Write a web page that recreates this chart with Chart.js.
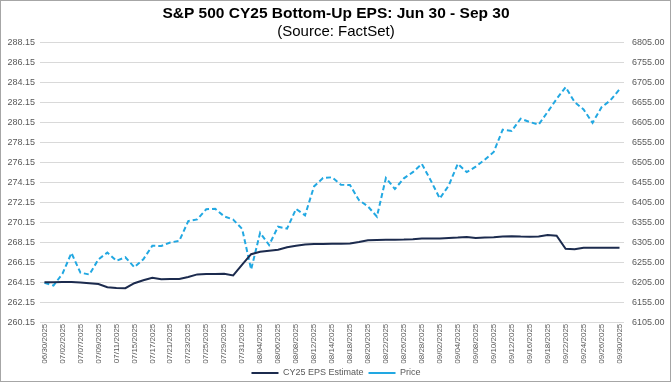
<!DOCTYPE html>
<html>
<head>
<meta charset="utf-8">
<script src="https://cdn.jsdelivr.net/npm/chart.js@4/dist/chart.umd.min.js"></script>
<style>
  html, body { margin: 0; padding: 0; background: #fff; }
  #wrap { width: 672px; height: 384px; position: relative; }
</style>
</head>
<body>
<div id="wrap"><canvas id="c" width="672" height="384"></canvas></div>
<script>
const titleText = "S&P 500 CY25 Bottom-Up EPS: Jun 30 - Sep 30";
const subtitleText = "(Source: FactSet)";

const dates = [
  "06/30/2025","07/01/2025","07/02/2025","07/03/2025","07/07/2025","07/08/2025","07/09/2025","07/10/2025","07/11/2025",
  "07/14/2025","07/15/2025","07/16/2025","07/17/2025","07/18/2025","07/21/2025","07/22/2025","07/23/2025","07/24/2025",
  "07/25/2025","07/28/2025","07/29/2025","07/30/2025","07/31/2025","08/01/2025","08/04/2025","08/05/2025","08/06/2025",
  "08/07/2025","08/08/2025","08/11/2025","08/12/2025","08/13/2025","08/14/2025","08/15/2025","08/18/2025","08/19/2025",
  "08/20/2025","08/21/2025","08/22/2025","08/25/2025","08/26/2025","08/27/2025","08/28/2025","08/29/2025","09/02/2025",
  "09/03/2025","09/04/2025","09/05/2025","09/08/2025","09/09/2025","09/10/2025","09/11/2025","09/12/2025","09/15/2025",
  "09/16/2025","09/17/2025","09/18/2025","09/19/2025","09/22/2025","09/23/2025","09/24/2025","09/25/2025","09/26/2025",
  "09/29/2025","09/30/2025"
];

const epsEstimate = [
  264.20,264.20,264.22,264.22,264.18,264.10,264.02,263.70,263.62,
  263.60,264.10,264.40,264.65,264.50,264.52,264.52,264.72,264.98,
  265.02,265.03,265.05,264.88,265.95,267.00,267.25,267.35,267.45,
  267.70,267.85,267.98,268.02,268.03,268.05,268.05,268.08,268.22,
  268.40,268.42,268.44,268.45,268.46,268.50,268.56,268.57,268.58,
  268.62,268.66,268.72,268.62,268.66,268.70,268.78,268.80,268.76,
  268.74,268.78,268.92,268.85,267.55,267.50,267.65,267.65,267.65,
  267.65,267.65
];

const price = [
  6204.95,6198.01,6227.42,6279.35,6229.98,6225.52,6263.26,6280.46,6259.75,
  6268.56,6243.76,6263.70,6297.36,6296.79,6305.60,6309.62,6358.91,6363.35,
  6388.64,6389.77,6370.86,6362.90,6339.39,6238.01,6329.94,6299.19,6345.06,
  6340.00,6389.45,6373.45,6445.76,6466.58,6468.54,6449.80,6449.15,6411.37,
  6395.78,6370.17,6466.91,6439.32,6465.94,6481.40,6501.86,6460.26,6415.54,
  6448.26,6502.08,6481.50,6495.15,6512.61,6532.04,6587.47,6584.29,6615.28,
  6606.76,6600.35,6631.96,6664.36,6693.75,6656.92,6637.97,6604.72,6643.70,
  6661.21,6688.46
];

const leftTicks = [260.15,262.15,264.15,266.15,268.15,270.15,272.15,274.15,276.15,278.15,280.15,282.15,284.15,286.15,288.15];
const rightTicks = [6105,6155,6205,6255,6305,6355,6405,6455,6505,6555,6605,6655,6705,6755,6805];

const FONT = "'Liberation Sans', Arial, sans-serif";
const GREY = "#595959";

const frame = {
  id: 'frame',
  beforeDraw(chart) {
    const ctx = chart.ctx;
    ctx.save();
    ctx.fillStyle = '#ffffff';
    ctx.fillRect(0, 0, chart.width, chart.height);
    ctx.restore();
  },
  afterDraw(chart) {
    const ctx = chart.ctx;
    ctx.save();
    ctx.strokeStyle = '#a6a6a6';
    ctx.lineWidth = 1;
    ctx.strokeRect(0.5, 0.5, chart.width - 2, chart.height - 3);
    ctx.restore();
  }
};

new Chart(document.getElementById('c'), {
  type: 'line',
  data: {
    labels: dates,
    datasets: [
      {
        label: 'CY25 EPS Estimate',
        data: epsEstimate,
        yAxisID: 'y',
        borderColor: '#1c2b4e',
        backgroundColor: '#1c2b4e',
        borderWidth: 2,
        pointRadius: 0,
        tension: 0,
        pointStyle: 'line'
      },
      {
        label: 'Price',
        data: price,
        yAxisID: 'y2',
        borderColor: '#22a8e2',
        backgroundColor: '#22a8e2',
        borderWidth: 2,
        borderDash: [5, 3],
        pointRadius: 0,
        tension: 0,
        pointStyle: 'line'
      }
    ]
  },
  options: {
    responsive: false,
    animation: false,
    devicePixelRatio: 1,
    layout: { padding: { top: 0, left: 0, right: 0, bottom: -3.5 } },
    plugins: {
      title: {
        display: true,
        text: titleText,
        color: '#000',
        font: { family: FONT, size: 15.5, weight: 'bold', lineHeight: 1.2 },
        padding: { top: 4, bottom: 0 }
      },
      subtitle: {
        display: true,
        text: subtitleText,
        color: '#000',
        font: { family: FONT, size: 15, weight: 'normal', lineHeight: 1.2 },
        padding: { top: 0, bottom: 2.1 }
      },
      legend: {
        display: true,
        position: 'bottom',
        labels: {
          usePointStyle: true,
          pointStyleWidth: 27,
          color: GREY,
          padding: 5,
          font: { family: FONT, size: 9 }
        }
      },
      tooltip: { enabled: false }
    },
    scales: {
      x: {
        type: 'category',
        offset: true,
        grid: { display: false, drawTicks: false },
        border: { display: false },
        afterFit(scale) { scale.height = 40.8; },
        ticks: {
          autoSkip: false,
          minRotation: 90,
          maxRotation: 90,
          padding: 1,
          color: GREY,
          font: { family: FONT, size: 8 },
          callback: function (val, i) { return i % 2 === 0 ? dates[i] : ''; }
        }
      },
      y: {
        type: 'linear',
        position: 'left',
        min: leftTicks[0],
        max: leftTicks[leftTicks.length - 1],
        afterBuildTicks(scale) { scale.ticks = leftTicks.map(v => ({ value: v })); },
        afterFit(scale) { scale.width = 40; },
        grid: { color: '#d9d9d9', lineWidth: 1, drawTicks: false },
        border: { display: false },
        ticks: {
          padding: 5,
          color: GREY,
          font: { family: FONT, size: 9 },
          callback: v => Number(v).toFixed(2)
        }
      },
      y2: {
        type: 'linear',
        position: 'right',
        min: rightTicks[0],
        max: rightTicks[rightTicks.length - 1],
        afterBuildTicks(scale) { scale.ticks = rightTicks.map(v => ({ value: v })); },
        afterFit(scale) { scale.width = 48; },
        grid: { display: false, drawTicks: false },
        border: { display: false },
        ticks: {
          padding: 8,
          color: GREY,
          font: { family: FONT, size: 9 },
          callback: v => Number(v).toFixed(2)
        }
      }
    }
  },
  plugins: [frame]
});
</script>
</body>
</html>
